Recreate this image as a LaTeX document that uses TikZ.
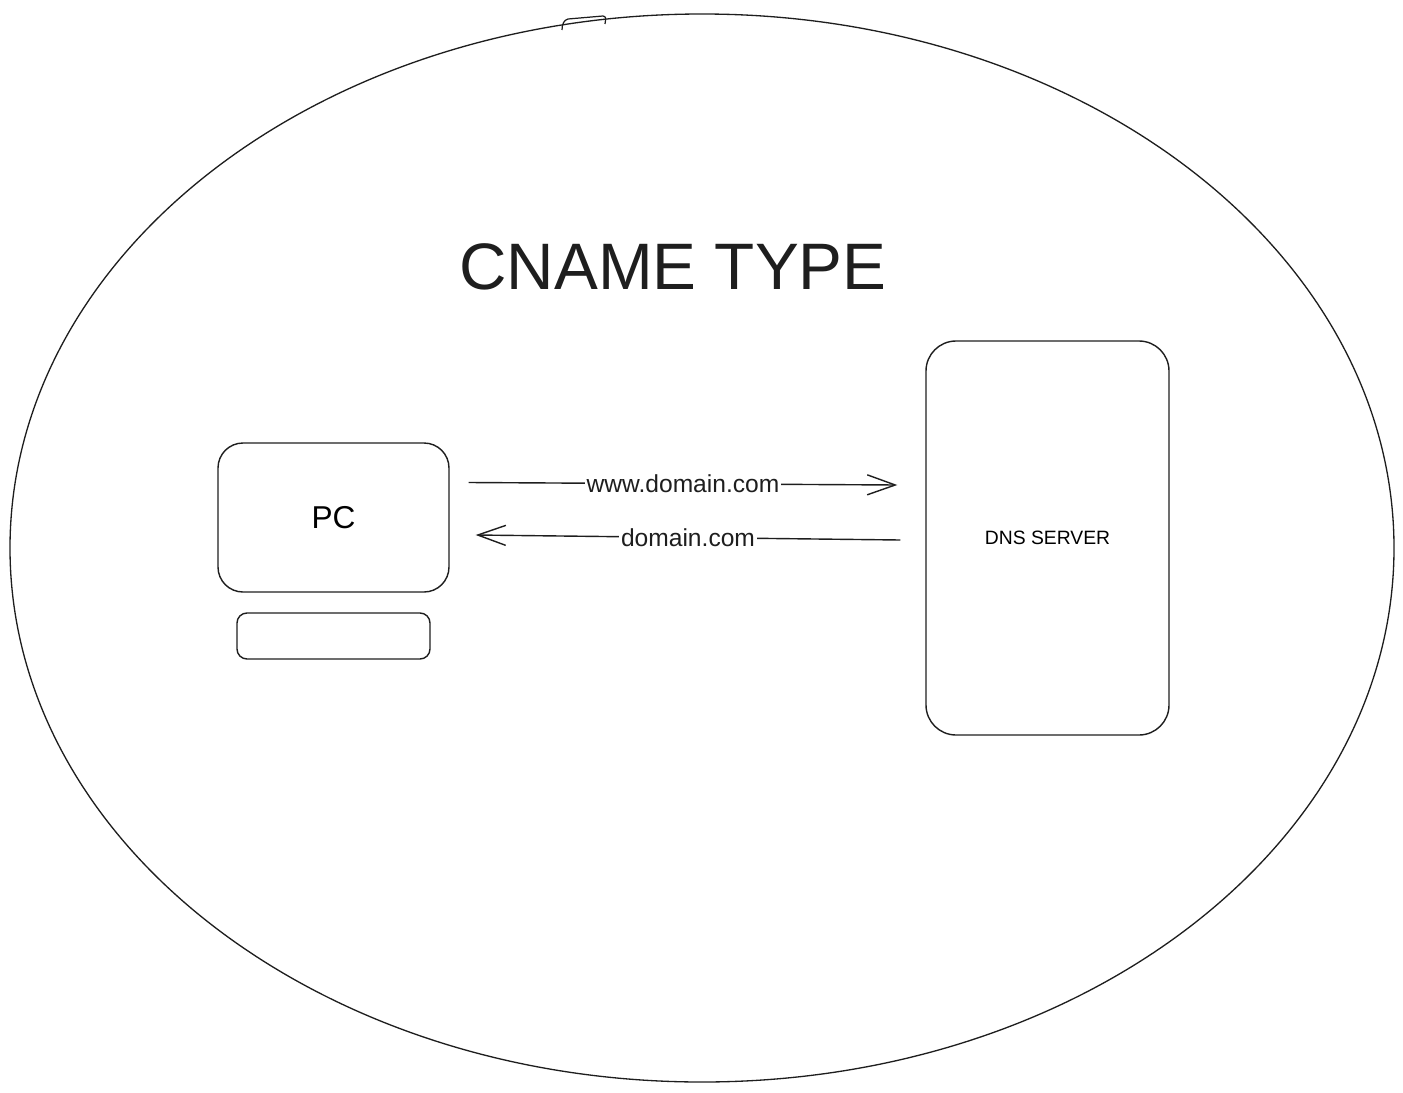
\documentclass[tikz,border=0pt]{standalone}
\usepackage{fontspec}
\setmainfont{Liberation Sans}
\usetikzlibrary{arrows.meta}
\definecolor{ink}{HTML}{1E1E1E}
\def\pxu{0.02cm}
\tikzset{
	box/.style={draw=ink, line width=0.8pt, inner sep=0pt},
	lbl/.style={fill=white, text=ink, inner sep=1pt, font=\fontsize{14}{16}\selectfont},
	arr/.style={draw=ink, line width=0.8pt, -{Straight Barb[length=5.6mm, width=4mm]}}
}

\begin{document}
\begin{tikzpicture}[x=0.02cm, y=-0.02cm]
		%%%%% START %%%%%
		\useasboundingbox (0, 0) rectangle (1403, 1092);
		
		\draw[ink, line width=0.75pt] (702, 548) ellipse [x radius=692, y radius=534];
		\draw[ink, line width=0.7pt] (562, 30) .. controls (562, 24) and (564, 20) .. (568, 19) -- (603, 16) .. controls (606, 17) .. (605, 24);
		
		\node[text=ink, font=\fontsize{37.4}{44}\selectfont] (title) at (673, 267) {CNAME TYPE};
		
		\node[box, rounded corners={25*\pxu}, minimum width={231*\pxu}, minimum height={149*\pxu}, font=\fontsize{18}{20}\selectfont] (pc) at (333.5, 517.5) {PC};
		\node[box, rounded corners={10*\pxu}, minimum width={193*\pxu}, minimum height={46*\pxu}] (keyboard) at (333.5, 636) {};
		
		\node[box, rounded corners={30*\pxu}, minimum width={243*\pxu}, minimum height={394*\pxu}, font=\fontsize{11}{13}\selectfont] (dns) at (1047.5, 538) {DNS SERVER};
		
		\draw[arr] ([shift={(19*\pxu, 35*\pxu)}]pc.east) -- ([shift={(-28*\pxu, 53*\pxu)}]dns.west) node[lbl, midway] {www.domain.com};
		\draw[arr] ([shift={(-25*\pxu, -2*\pxu)}]dns.west) -- ([shift={(26*\pxu, -17.5*\pxu)}]pc.east) node[lbl, midway] {domain.com};
		
		%%%%% END %%%%%
	\end{tikzpicture}
\end{document}
